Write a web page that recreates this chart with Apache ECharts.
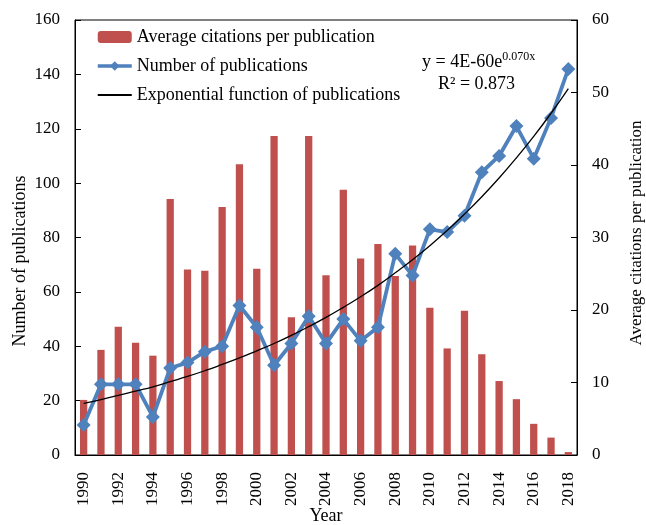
<!DOCTYPE html>
<html>
<head>
<meta charset="utf-8">
<script src="https://cdn.jsdelivr.net/npm/echarts@6/dist/echarts.min.js"></script>
<style>html,body{margin:0;padding:0;background:#fff;}#c{width:646px;height:525px;}</style>
</head>
<body>
<div id="c"></div>
<script>
const years = ['1990','1991','1992','1993','1994','1995','1996','1997','1998','1999','2000','2001','2002','2003','2004','2005','2006','2007','2008','2009','2010','2011','2012','2013','2014','2015','2016','2017','2018'];
const publications = [11, 26, 26, 26, 14, 32, 34, 38, 40, 55, 47, 33, 41, 51, 41, 50, 42, 47, 74, 66, 83, 82, 88, 104, 110, 121, 109, 124, 142];
const avgCitations = [7.6, 14.5, 17.7, 15.5, 13.7, 35.3, 25.6, 25.4, 34.2, 40.1, 25.7, 44.0, 19.0, 44.0, 24.8, 36.6, 27.1, 29.1, 24.7, 28.9, 20.3, 14.7, 19.9, 13.9, 10.2, 7.7, 4.3, 2.4, 0.4];
const trendValues = [19.0, 20.4, 21.9, 23.5, 25.1, 27.0, 28.9, 31.0, 33.3, 35.7, 38.3, 41.0, 44.0, 47.2, 50.6, 54.3, 58.2, 62.4, 67.0, 71.8, 77.0, 82.6, 88.6, 95.0, 101.9, 109.3, 117.2, 125.7, 134.8];
const leftTicks = {min: 0, max: 160, interval: 20};
const rightTicks = {min: 0, max: 60, interval: 10};

const font = 'Liberation Serif';
const fs = 18;
const tfs = 17;
const chart = echarts.init(document.getElementById('c'));
chart.setOption({
  animation: false,
  backgroundColor: '#fff',
  textStyle: {fontFamily: font, color: '#000'},
  grid: {left: 75, right: 69, top: 20, bottom: 70, outerBoundsMode: 'none', containLabel: false, show: true, borderColor: '#000', borderWidth: 1, backgroundColor: 'transparent'},
  legend: {
    orient: 'vertical', left: 91, top: 23, itemWidth: 34, itemHeight: 12, itemGap: 11,
    textStyle: {fontFamily: font, fontSize: fs, color: '#000'},
    data: [
      {name: 'Average citations per publication'},
      {name: 'Number of publications', lineStyle: {width: 3.5}},
      {name: 'Exponential function of publications', itemStyle: {opacity: 0}}
    ]
  },
  xAxis: {
    type: 'category', data: years, boundaryGap: true,
    name: 'Year', nameLocation: 'middle', nameGap: 52, nameMoveOverlap: false,
    nameTextStyle: {fontFamily: font, fontSize: fs, color: '#000'},
    axisLine: {lineStyle: {color: '#000', width: 1}},
    axisTick: {inside: true, length: 5, interval: 1, lineStyle: {color: '#000'}},
    axisLabel: {interval: 1, rotate: 90, fontFamily: font, fontSize: tfs, color: '#000', margin: 17}
  },
  yAxis: [
    {
      type: 'value', min: leftTicks.min, max: leftTicks.max, interval: leftTicks.interval,
      name: 'Number of publications', nameLocation: 'middle', nameGap: 46, nameRotate: 90, nameMoveOverlap: false,
      nameTextStyle: {fontFamily: font, fontSize: fs, color: '#000', padding: [0, 47, 0, 0]},
      axisLine: {show: true, lineStyle: {color: '#000'}},
      axisTick: {show: true, inside: true, length: 6, lineStyle: {color: '#000'}},
      splitLine: {show: false},
      axisLabel: {fontFamily: font, fontSize: tfs, color: '#000', margin: 15}
    },
    {
      type: 'value', min: rightTicks.min, max: rightTicks.max, interval: rightTicks.interval,
      name: 'Average citations per publication', nameLocation: 'middle', nameGap: 51, nameRotate: 90, nameMoveOverlap: false,
      nameTextStyle: {fontFamily: font, fontSize: 17, color: '#000', padding: [0, 0, 0, 9]},
      axisLine: {show: true, lineStyle: {color: '#000'}},
      axisTick: {show: true, inside: true, length: 6, lineStyle: {color: '#000'}},
      splitLine: {show: false},
      axisLabel: {fontFamily: font, fontSize: tfs, color: '#000', margin: 15}
    }
  ],
  series: [
    {
      name: 'Average citations per publication', type: 'bar', yAxisIndex: 1, data: avgCitations,
      barWidth: '42%', itemStyle: {color: '#C0504D'}, z: 1
    },
    {
      name: 'Number of publications', type: 'line', yAxisIndex: 0, data: publications,
      symbol: 'diamond', symbolSize: 14, showAllSymbol: true, lineStyle: {color: '#4F81BD', width: 3.8},
      itemStyle: {color: '#4F81BD'}, z: 3
    },
    {
      name: 'Exponential function of publications', type: 'line', yAxisIndex: 0, data: trendValues,
      smooth: true, symbol: 'none', lineStyle: {color: '#000', width: 1.3}, itemStyle: {color: '#000'}, z: 4
    }
  ],
  graphic: [
    {
      type: 'text', left: 422, top: 51, z: 10,
      style: {
        text: '{b|y = 4E-60e}{s|0.070x}',
        rich: {
          b: {fontFamily: font, fontSize: fs, fill: '#000'},
          s: {fontFamily: font, fontSize: 12, fill: '#000', padding: [0, 0, 10, 0]}
        }
      }
    },
    {
      type: 'text', left: 438, top: 75, z: 10,
      style: {text: 'R² = 0.873', fontFamily: font, fontSize: fs, fill: '#000'}
    }
  ]
});
</script>
</body>
</html>
